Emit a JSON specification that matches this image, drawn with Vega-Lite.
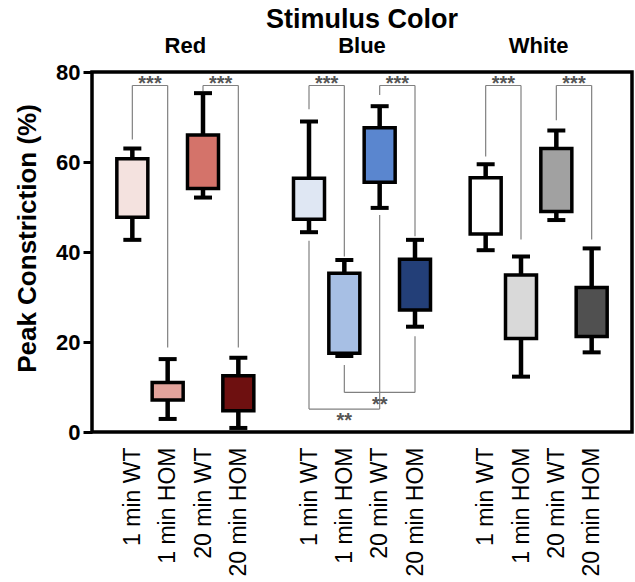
{
  "$schema": "https://vega.github.io/schema/vega-lite/v6.json",
  "width": 540,
  "height": 360,
  "autosize": {"type": "none"},
  "padding": {"left": 92, "top": 72, "right": 3, "bottom": 150},
  "background": "white",
  "title": {"text": "Stimulus Color", "fontSize": 27, "font": "Liberation Sans", "fontWeight": "bold", "color": "black", "anchor": "middle", "frame": "group", "offset": 1},
  "config": {
    "view": {"stroke": "black", "strokeWidth": 3.5},
    "font": "Liberation Sans"
  },
  "datasets": {
    "boxes": [
      {"group": "Red", "cond": "1 min WT", "slot": 1, "min": 42.7, "q1": 47.7, "q3": 60.7, "max": 63.0},
      {"group": "Red", "cond": "1 min HOM", "slot": 2, "min": 2.9, "q1": 7.1, "q3": 11.0, "max": 16.2},
      {"group": "Red", "cond": "20 min WT", "slot": 3, "min": 52.1, "q1": 54.1, "q3": 66.0, "max": 75.3},
      {"group": "Red", "cond": "20 min HOM", "slot": 4, "min": 0.9, "q1": 4.7, "q3": 12.5, "max": 16.5},
      {"group": "Blue", "cond": "1 min WT", "slot": 6, "min": 44.4, "q1": 47.3, "q3": 56.4, "max": 69.0},
      {"group": "Blue", "cond": "1 min HOM", "slot": 7, "min": 16.9, "q1": 17.5, "q3": 35.3, "max": 38.2},
      {"group": "Blue", "cond": "20 min WT", "slot": 8, "min": 49.8, "q1": 55.5, "q3": 67.6, "max": 72.4},
      {"group": "Blue", "cond": "20 min HOM", "slot": 9, "min": 23.4, "q1": 27.1, "q3": 38.4, "max": 42.7},
      {"group": "White", "cond": "1 min WT", "slot": 11, "min": 40.4, "q1": 44.0, "q3": 56.5, "max": 59.5},
      {"group": "White", "cond": "1 min HOM", "slot": 12, "min": 12.3, "q1": 20.8, "q3": 34.9, "max": 39.0},
      {"group": "White", "cond": "20 min WT", "slot": 13, "min": 47.1, "q1": 49.0, "q3": 63.0, "max": 67.0},
      {"group": "White", "cond": "20 min HOM", "slot": 14, "min": 17.7, "q1": 21.2, "q3": 32.1, "max": 40.8}
    ],
    "segments": [
      {"a": 1, "b": 1, "ya": 65.0, "yb": 77.0}, {"a": 1, "b": 2, "ya": 77.0, "yb": 77.0}, {"a": 2, "b": 2, "ya": 77.0, "yb": 18.8},
      {"a": 3, "b": 3, "ya": 75.8, "yb": 77.0}, {"a": 3, "b": 4, "ya": 77.0, "yb": 77.0}, {"a": 4, "b": 4, "ya": 77.0, "yb": 18.8},
      {"a": 6, "b": 6, "ya": 71.7, "yb": 77.0}, {"a": 6, "b": 7, "ya": 77.0, "yb": 77.0}, {"a": 7, "b": 7, "ya": 77.0, "yb": 39.0},
      {"a": 8, "b": 8, "ya": 74.9, "yb": 77.0}, {"a": 8, "b": 9, "ya": 77.0, "yb": 77.0}, {"a": 9, "b": 9, "ya": 77.0, "yb": 43.5},
      {"a": 6, "b": 6, "ya": 42.5, "yb": 5.1}, {"a": 6, "b": 8, "ya": 5.1, "yb": 5.1}, {"a": 8, "b": 8, "ya": 5.1, "yb": 48.2},
      {"a": 7, "b": 7, "ya": 14.9, "yb": 8.8}, {"a": 7, "b": 9, "ya": 8.8, "yb": 8.8}, {"a": 9, "b": 9, "ya": 8.8, "yb": 21.3},
      {"a": 11, "b": 11, "ya": 61.2, "yb": 77.0}, {"a": 11, "b": 12, "ya": 77.0, "yb": 77.0}, {"a": 12, "b": 12, "ya": 77.0, "yb": 42.8},
      {"a": 13, "b": 13, "ya": 69.3, "yb": 77.0}, {"a": 13, "b": 14, "ya": 77.0, "yb": 77.0}, {"a": 14, "b": 14, "ya": 77.0, "yb": 42.8}
    ],
    "stars": [
      {"x": 1.5, "y": 79.6, "label": "***"},
      {"x": 3.5, "y": 79.6, "label": "***"},
      {"x": 6.5, "y": 79.6, "label": "***"},
      {"x": 8.5, "y": 79.6, "label": "***"},
      {"x": 11.5, "y": 79.6, "label": "***"},
      {"x": 13.5, "y": 79.6, "label": "***"},
      {"x": 7, "y": 4.6, "label": "**"},
      {"x": 8, "y": 8.3, "label": "**"}
    ],
    "groups": [
      {"x": 2.5, "y": 85.8, "label": "Red"},
      {"x": 7.5, "y": 85.8, "label": "Blue"},
      {"x": 12.5, "y": 85.8, "label": "White"}
    ]
  },
  "layer": [
    {
      "data": {"name": "segments"},
      "mark": {"type": "rule", "color": "#808080", "strokeWidth": 1.2},
      "encoding": {
        "x": {"field": "a", "type": "quantitative", "scale": {"domain": [0, 15], "nice": false, "zero": false},
          "axis": {"values": [1, 2, 3, 4, 6, 7, 8, 9, 11, 12, 13, 14], "grid": false, "domain": false, "ticks": false, "tickSize": 0, "title": null, "labelAngle": -90, "labelAlign": "right", "labelBaseline": "middle", "labelPadding": 15, "labelFontSize": 23, "labelColor": "black", "labelFont": "Liberation Sans", "labelOverlap": false, "labelFlush": false,
            "labelExpr": "['', '1 min WT', '1 min HOM', '20 min WT', '20 min HOM', '', '1 min WT', '1 min HOM', '20 min WT', '20 min HOM', '', '1 min WT', '1 min HOM', '20 min WT', '20 min HOM'][datum.value]"}},
        "x2": {"field": "b"},
        "y": {"field": "ya", "type": "quantitative", "scale": {"domain": [0, 80], "nice": false},
          "axis": {"values": [0, 20, 40, 60, 80], "grid": false, "domain": false, "tickSize": 9, "tickWidth": 3, "tickColor": "black", "labelPadding": 3, "labelFontSize": 22, "labelFontWeight": "bold", "labelColor": "black", "labelFont": "Liberation Sans",
            "title": "Peak Constriction (%)", "titleFontSize": 26, "titleFontWeight": "bold", "titleColor": "black", "titleFont": "Liberation Sans", "titleAngle": -90, "titleAlign": "center", "titleBaseline": "middle", "titleX": -65, "titleY": 166}},
        "y2": {"field": "yb"}
      }
    },
    {
      "data": {"name": "boxes"},
      "mark": {"type": "rule", "color": "black", "strokeWidth": 4.5},
      "encoding": {
        "x": {"field": "slot", "type": "quantitative"},
        "y": {"field": "min", "type": "quantitative"},
        "y2": {"field": "max"}
      }
    },
    {
      "data": {"name": "boxes"},
      "mark": {"type": "bar", "width": 31, "stroke": "black", "strokeWidth": 3.5},
      "encoding": {
        "x": {"field": "slot", "type": "quantitative"},
        "y": {"field": "q1", "type": "quantitative"},
        "y2": {"field": "q3"},
        "fill": {
          "field": "key", "type": "nominal", "legend": null,
          "scale": {
            "domain": ["Red 1 min WT", "Red 1 min HOM", "Red 20 min WT", "Red 20 min HOM", "Blue 1 min WT", "Blue 1 min HOM", "Blue 20 min WT", "Blue 20 min HOM", "White 1 min WT", "White 1 min HOM", "White 20 min WT", "White 20 min HOM"],
            "range": ["#f4e2df", "#e2a39c", "#d4736a", "#6e1010", "#dfe7f3", "#a7bfe4", "#5a86cf", "#233f78", "#ffffff", "#d9d9d9", "#a1a1a1", "#505050"]
          }
        }
      },
      "transform": [{"calculate": "datum.group + ' ' + datum.cond", "as": "key"}]
    },
    {
      "data": {"name": "boxes"},
      "mark": {"type": "tick", "orient": "horizontal", "color": "black", "size": 18, "thickness": 4, "opacity": 1},
      "encoding": {
        "x": {"field": "slot", "type": "quantitative"},
        "y": {"field": "min", "type": "quantitative"}
      }
    },
    {
      "data": {"name": "boxes"},
      "mark": {"type": "tick", "orient": "horizontal", "color": "black", "size": 18, "thickness": 4, "opacity": 1},
      "encoding": {
        "x": {"field": "slot", "type": "quantitative"},
        "y": {"field": "max", "type": "quantitative"}
      }
    },
    {
      "data": {"name": "stars"},
      "mark": {"type": "text", "font": "Liberation Sans", "fontSize": 20, "fontWeight": "bold", "color": "#555555", "baseline": "top", "align": "center"},
      "encoding": {
        "x": {"field": "x", "type": "quantitative"},
        "y": {"field": "y", "type": "quantitative"},
        "text": {"field": "label"}
      }
    },
    {
      "data": {"name": "groups"},
      "mark": {"type": "text", "font": "Liberation Sans", "fontSize": 22, "fontWeight": "bold", "color": "black", "baseline": "middle", "align": "center"},
      "encoding": {
        "x": {"field": "x", "type": "quantitative"},
        "y": {"field": "y", "type": "quantitative"},
        "text": {"field": "label"}
      }
    }
  ]
}
